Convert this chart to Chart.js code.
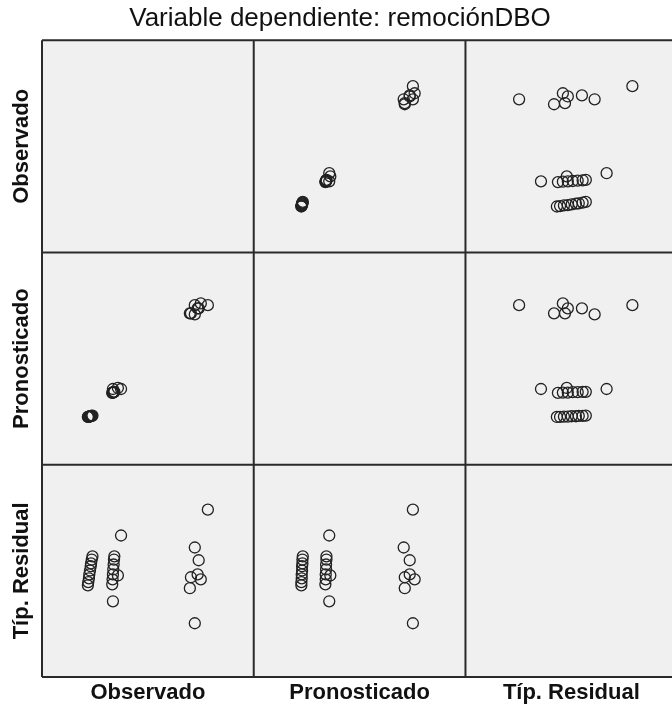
<!DOCTYPE html>
<html>
<head>
<meta charset="utf-8">
<script src="https://cdn.jsdelivr.net/npm/chart.js@4"></script>
<style>
body { margin: 0; background: #fff; overflow: hidden; }
</style>
</head>
<body>
<canvas id="matrix" width="684" height="709"></canvas>
<script>
const variables = ["Observado", "Pronosticado", "Típ. Residual"];

// one entry per case: low group, mid group, high group
const observado = [
  43.0, 43.1, 43.3, 43.4, 43.6, 43.8, 43.9, 44.1, 44.3,
  52.4, 50.1, 51.5, 49.9, 50.0, 50.1, 50.2, 50.3, 50.4, 50.5,
  77.0, 73.3, 75.0, 71.9, 72.2, 74.1, 74.4, 73.3
];
const pronosticado = [
  43.5, 43.5, 43.6, 43.6, 43.7, 43.7, 43.8, 43.8, 43.9,
  51.4, 51.4, 51.7, 50.3, 50.4, 50.4, 50.5, 50.5, 50.6, 50.6,
  75.1, 75.1, 75.6, 72.8, 72.8, 74.2, 74.2, 72.5
];
const residual = [
  -0.41, -0.32, -0.21, -0.10, 0.01, 0.13, 0.21, 0.32, 0.41,
  1.00, -0.86, -0.13, -0.38, -0.24, -0.10, 0.04, 0.18, 0.32, 0.41,
  1.73, -1.48, -0.24, -0.49, -0.18, -0.10, 0.30, 0.66
];

const series = [observado, pronosticado, residual];
const ranges = [[30, 90], [30, 90], [-3, 3]];

const font = "Arial, 'Liberation Sans', sans-serif";

const datasets = [];
for (let row = 0; row < 3; row++) {
  for (let col = 0; col < 3; col++) {
    if (row === col) continue;
    datasets.push({
      label: variables[row] + " / " + variables[col],
      data: series[col].map((v, k) => ({ x: v, y: series[row][k] })),
      xAxisID: "x" + col,
      yAxisID: "y" + row,
      pointRadius: 5.5,
      pointBorderWidth: 1.3,
      pointBorderColor: "#222",
      pointBackgroundColor: "rgba(0,0,0,0)",
      showLine: false,
    });
  }
}

const scales = {};
for (let i = 0; i < 3; i++) {
  scales["x" + i] = {
    type: "linear",
    position: "bottom",
    stack: "cols",
    stackWeight: 1,
    min: ranges[i][0],
    max: ranges[i][1],
    grid: { display: false },
    border: { display: false },
    ticks: { display: false },
    title: {
      display: true,
      text: variables[i],
      color: "#111",
      font: { family: font, size: 22, weight: "bold" },
      padding: { top: 0, bottom: 3 },
    },
    afterFit(scale) { scale.height = 32; },
  };
}
// left axes stack bottom-up, so add them in reverse
for (let i = 2; i >= 0; i--) {
  scales["y" + i] = {
    type: "linear",
    position: "left",
    stack: "rows",
    stackWeight: 1,
    min: ranges[i][0],
    max: ranges[i][1],
    grid: { display: false },
    border: { display: false },
    ticks: { display: false },
    title: {
      display: true,
      text: variables[i],
      color: "#111",
      font: { family: font, size: 22, weight: "bold" },
      padding: { top: 9, bottom: 0 },
    },
    afterFit(scale) { scale.width = 42; },
  };
}

const cellPlugin = {
  id: "cells",
  beforeDatasetsDraw(chart) {
    const ctx = chart.ctx;
    const a = chart.chartArea;
    ctx.save();
    ctx.fillStyle = "#f0f0f0";
    ctx.fillRect(a.left, a.top, a.right - a.left, a.bottom - a.top);
    ctx.strokeStyle = "#2a2a2a";
    ctx.lineWidth = 2;
    ctx.beginPath();
    for (let i = 0; i < 3; i++) {
      const sx = chart.scales["x" + i];
      ctx.moveTo(sx.left, a.top); ctx.lineTo(sx.left, a.bottom);
      ctx.moveTo(sx.right, a.top); ctx.lineTo(sx.right, a.bottom);
      const sy = chart.scales["y" + i];
      ctx.moveTo(a.left, sy.top); ctx.lineTo(a.right, sy.top);
      ctx.moveTo(a.left, sy.bottom); ctx.lineTo(a.right, sy.bottom);
    }
    ctx.stroke();
    ctx.restore();
  },
};

new Chart(document.getElementById("matrix"), {
  type: "scatter",
  data: { datasets: datasets },
  options: {
    responsive: false,
    animation: false,
    layout: { padding: { left: 0, right: 4, top: 0, bottom: 0 } },
    plugins: {
      legend: { display: false },
      tooltip: { enabled: false },
      title: {
        display: true,
        text: "Variable dependiente: remociónDBO",
        color: "#111",
        font: { family: font, size: 26, weight: "normal" },
        padding: { top: 3, bottom: 6 },
      },
    },
    scales: scales,
  },
  plugins: [cellPlugin],
});
</script>
</body>
</html>
